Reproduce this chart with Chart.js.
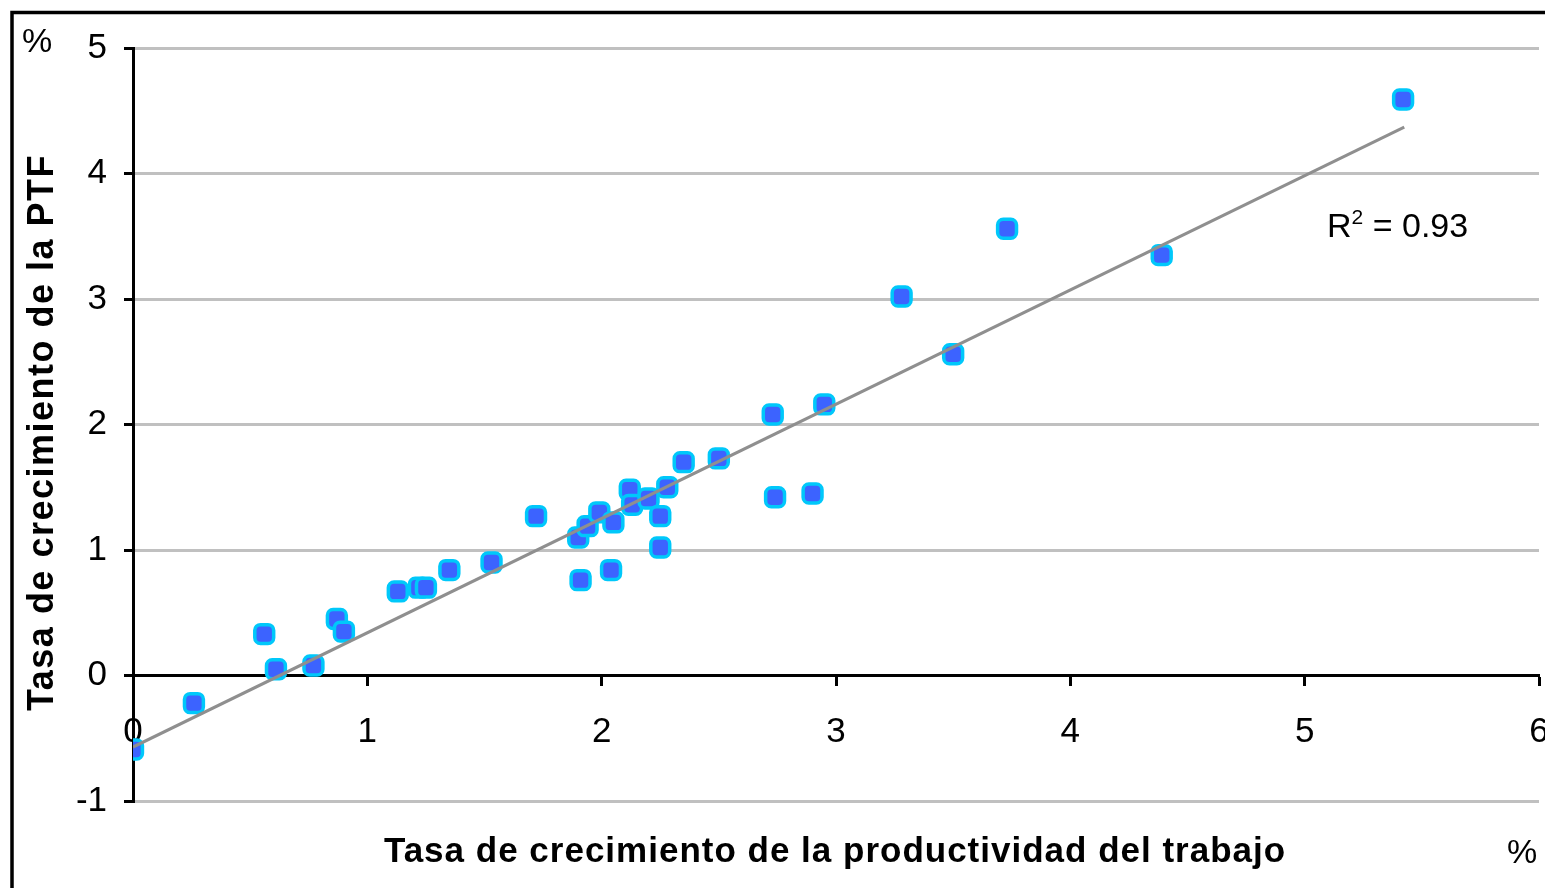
<!DOCTYPE html>
<html lang="es">
<head>
<meta charset="utf-8">
<title>PTF vs productividad del trabajo</title>
<script src="https://cdn.jsdelivr.net/npm/chart.js@4.4.1/dist/chart.umd.min.js"></script>
<style>
  html, body { margin: 0; padding: 0; background: #ffffff; }
  canvas { display: block; }
</style>
</head>
<body>
<canvas id="chart" width="1545" height="888"></canvas>
<script>
// Tasa de crecimiento de la productividad del trabajo (%)
const laborProductivityGrowth = [
  0.00, 0.26, 0.56, 0.61, 0.77, 0.87, 0.90, 1.13, 1.22, 1.25,
  1.35, 1.53, 1.72, 1.90, 1.91, 1.94, 1.99, 2.04, 2.05, 2.12,
  2.13, 2.20, 2.25, 2.25, 2.28, 2.35, 2.50, 2.73, 2.74, 2.90,
  2.95, 3.28, 3.50, 3.73, 4.39, 5.42
];
// Tasa de crecimiento de la PTF (%)
const tfpGrowth = [
  -0.59, -0.22, 0.33, 0.05, 0.08, 0.45, 0.35, 0.67, 0.70, 0.70,
  0.84, 0.90, 1.27, 1.10, 0.76, 1.19, 1.30, 0.84, 1.22, 1.48,
  1.36, 1.41, 1.27, 1.02, 1.50, 1.70, 1.73, 2.08, 1.42, 1.45,
  2.16, 3.02, 2.56, 3.56, 3.35, 4.59
];
// Linear trend line end points
const trendX = [0, 5.425];
const trendY = [-0.57, 4.37];
const rSquared = '0.93';

const xTickValues = [0, 1, 2, 3, 4, 5, 6];
const yTickValues = [-1, 0, 1, 2, 3, 4, 5];

const yTitle = 'Tasa de crecimiento de la PTF';
const xTitle = 'Tasa de crecimiento de la productividad del trabajo';
const unitLabel = '%';

const FONT = "'Liberation Sans', Arial, sans-serif";

const scatterPoints = laborProductivityGrowth.map((x, i) => ({ x: x, y: tfpGrowth[i] }));
const trendPoints = trendX.map((x, i) => ({ x: x, y: trendY[i] }));

// tick labels may overhang the plot edges; keep them from shrinking the plot
const noPadding = () => ({ left: 0, top: 0, right: 0, bottom: 0 });

// Frame, axis titles, unit marks and the R² note
const annotations = {
  id: 'annotations',
  afterDraw(chart) {
    const ctx = chart.ctx;
    ctx.save();

    // outer frame (left and top edges visible)
    ctx.strokeStyle = '#000000';
    ctx.lineWidth = 3.5;
    ctx.beginPath();
    ctx.moveTo(12, 900);
    ctx.lineTo(12, 12.5);
    ctx.lineTo(1560, 12.5);
    ctx.stroke();

    ctx.fillStyle = '#000000';

    // y axis title
    ctx.save();
    ctx.translate(53, 432.5);
    ctx.rotate(-Math.PI / 2);
    ctx.font = 'bold 36px ' + FONT;
    ctx.letterSpacing = '1.5px';
    ctx.textAlign = 'center';
    ctx.textBaseline = 'alphabetic';
    ctx.fillText(yTitle, 0, 0);
    ctx.restore();

    // x axis title
    ctx.font = 'bold 35px ' + FONT;
    ctx.letterSpacing = '1px';
    ctx.textAlign = 'center';
    ctx.textBaseline = 'alphabetic';
    ctx.fillText(xTitle, 835, 862);
    ctx.letterSpacing = '0px';

    // unit marks
    ctx.font = '34px ' + FONT;
    ctx.textAlign = 'center';
    ctx.fillText(unitLabel, 37, 52);
    ctx.fillText(unitLabel, 1522, 863);

    // R² = 0.93
    ctx.textAlign = 'left';
    let x = 1327;
    const base = 237;
    ctx.font = '34px ' + FONT;
    ctx.fillText('R', x, base);
    x += ctx.measureText('R').width;
    ctx.font = '21px ' + FONT;
    ctx.fillText('2', x, base - 13);
    x += ctx.measureText('2').width;
    ctx.font = '34px ' + FONT;
    ctx.fillText(' = ' + rSquared, x, base);

    ctx.restore();
  }
};

new Chart(document.getElementById('chart'), {
  type: 'scatter',
  data: {
    datasets: [
      {
        type: 'line',
        label: 'Tendencia',
        data: trendPoints,
        borderColor: '#8f8f8f',
        borderWidth: 3,
        pointRadius: 0,
        fill: false,
        order: 0
      },
      {
        label: 'Países',
        data: scatterPoints,
        pointStyle: 'rectRounded',
        pointRadius: 11,
        pointHoverRadius: 11,
        pointBorderWidth: 3.5,
        pointHoverBorderWidth: 3.5,
        backgroundColor: '#3c63ff',
        borderColor: '#00c8fa',
        order: 1
      }
    ]
  },
  options: {
    responsive: false,
    animation: false,
    devicePixelRatio: 1,
    events: [],
    layout: { autoPadding: false, padding: { left: 0, right: 6, top: 48, bottom: 87 } },
    plugins: {
      legend: { display: false },
      tooltip: { enabled: false }
    },
    scales: {
      x: {
        type: 'linear',
        position: { y: 0 },
        min: 0,
        max: 6,
        afterBuildTicks(scale) { scale.ticks = xTickValues.map(v => ({ value: v })); },
        afterFit(scale) {
          scale.paddingLeft = 0;
          scale.paddingRight = 0;
          scale.getPadding = noPadding;
        },
        ticks: {
          color: '#000000',
          font: { family: FONT, size: 35 },
          padding: 27,
          maxRotation: 0,
          autoSkip: false
        },
        grid: {
          drawOnChartArea: false,
          drawTicks: true,
          tickLength: 9,
          tickColor: '#000000',
          tickWidth: 3
        },
        border: { display: true, color: '#000000', width: 3 }
      },
      y: {
        type: 'linear',
        position: 'left',
        min: -1,
        max: 5,
        afterBuildTicks(scale) { scale.ticks = yTickValues.map(v => ({ value: v })); },
        afterFit(scale) {
          scale.width = 133;
          scale.getPadding = noPadding;
        },
        ticks: {
          color: '#000000',
          font: { family: FONT, size: 35 },
          padding: 17,
          autoSkip: false
        },
        grid: {
          color: ctx => (ctx.tick && ctx.tick.value === 0) ? 'rgba(0,0,0,0)' : '#c0c0c0',
          lineWidth: 3,
          drawTicks: true,
          tickLength: 9,
          tickColor: '#000000',
          tickWidth: 3
        },
        border: { display: true, color: '#000000', width: 3 }
      }
    }
  },
  plugins: [annotations]
});
</script>
</body>
</html>
